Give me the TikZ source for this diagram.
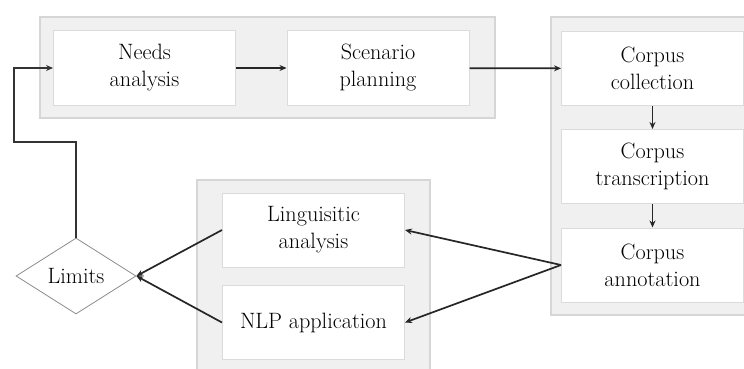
\documentclass[tikz,border=0pt]{standalone}
\usetikzlibrary{arrows.meta,shapes.geometric}
\begin{document}
\begin{tikzpicture}[x=1pt,y=-1pt,
  panel/.style={fill=black!6,draw=black!16,line width=1.2pt},
  stepbox/.style={draw=black!14,fill=white,line width=1pt,minimum height=74pt,minimum width=182pt,inner sep=0pt,align=center,font=\rmfamily\fontsize{22.2}{27}\selectfont,text=black},
  conn/.style={draw=black!85,line width=1.7pt,-{Stealth[length=7pt,width=6pt]}},
  fb/.style={draw=black!80,line width=1.7pt,-{Stealth[length=7pt,width=6pt]}}
]
\useasboundingbox (0,0) rectangle (744,369);
\fill[white] (0,0) rectangle (744,369);
% panels
\draw[panel] (40,17) rectangle (495,118);
\draw[panel] (551,17) rectangle (747,315);
\draw[panel] (197,180) rectangle (430,372);
% boxes
\node[stepbox] (needs) at (144.5,68) {Needs\\analysis};
\node[stepbox] (scen) at (378,68) {Scenario\\planning};
\node[stepbox] (coll) at (652.5,68.5) {Corpus\\collection};
\node[stepbox] (trans) at (652.5,166.5) {Corpus\\transcription};
\node[stepbox] (ann) at (652.5,265) {Corpus\\annotation};
\node[stepbox] (ling) at (313.5,230) {Linguisitic\\analysis};
\node[stepbox] (nlp) at (313.5,322.5) {NLP application};
\node[diamond,draw=black!45,line width=0.8pt,fill=white,minimum width=120pt,minimum height=76pt,inner sep=0pt,aspect=1.58,font=\rmfamily\fontsize{22.2}{27}\selectfont,text=black] (lim) at (76,276) {Limits};
\coordinate (c1) at (14,142);
% connectors
\draw[conn] (needs) -- (scen);
\draw[conn] (scen) -- (coll);
\draw[conn] (coll) -- (trans);
\draw[conn] (trans) -- (ann);
\draw[conn] (ann.west) -- (ling.east);
\draw[conn] (ann.west) -- (nlp.east);
\draw[conn] (ling.west) -- (lim.east);
\draw[conn] (nlp.west) -- (lim.east);
\draw[fb] (lim.north) |- (c1) |- (needs.west);
\end{tikzpicture}
\end{document}
